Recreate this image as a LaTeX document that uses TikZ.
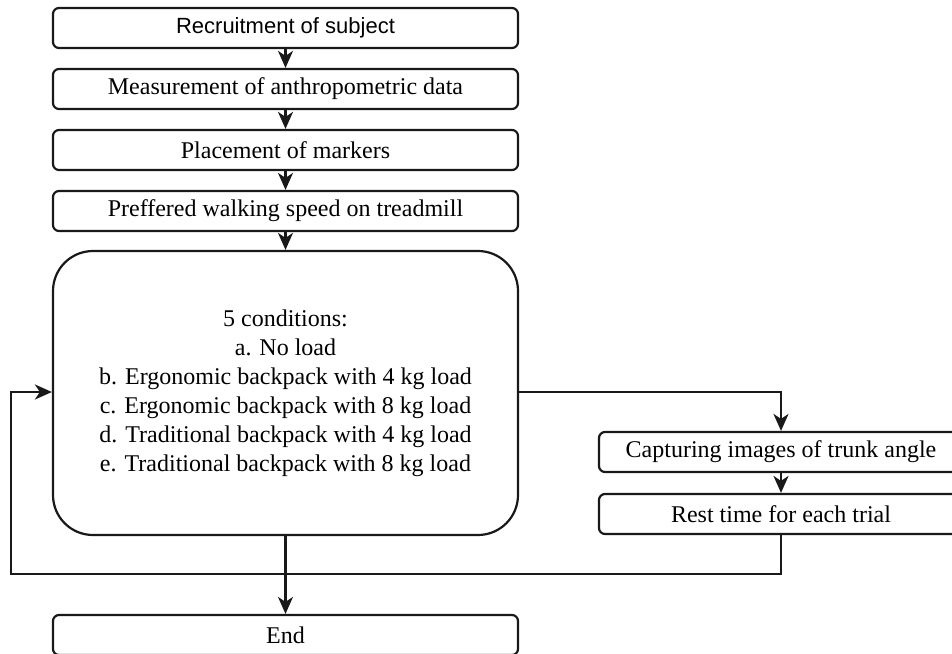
\documentclass[tikz,border=0pt]{standalone}
\usepackage{fontspec}
\setmainfont{Liberation Serif}
\newfontfamily\arialfont{Liberation Sans}
\usetikzlibrary{arrows.meta}
\begin{document}
\begin{tikzpicture}[x=1pt,y=-1pt,
  box/.style={draw=black!90,line width=2.2pt,rounded corners=6pt,minimum width=465pt,minimum height=40pt,inner sep=0pt,font=\fontsize{24}{29}\selectfont,text=black},
  rbox/.style={box,minimum width=364pt},
  bigbox/.style={draw=black!90,line width=2.2pt,rounded corners=40pt,minimum width=465pt,minimum height=284pt,inner sep=0pt,align=center,font=\fontsize{24}{29}\selectfont,text=black},
  conn/.style={draw=black!90,line width=2.2pt,-{Stealth[length=17pt,width=15pt,inset=5pt]}}]
\useasboundingbox (0,0) rectangle (952,653);
\clip (0,0) rectangle (952,653);
\node[box,font=\arialfont\fontsize{22}{26}\selectfont] (n1) at (285.5,28) {Recruitment of subject};
\node[box] (n2) at (285.5,89) {Measurement of anthropometric data};
\node[box] (n3) at (285.5,150) {Placement of markers};
\node[box] (n4) at (285.5,211) {Preffered walking speed on treadmill};
\node[bigbox] (n5) at (285.5,393) {5 conditions:\\a. No load\\b. Ergonomic backpack with 4 kg load\\c. Ergonomic backpack with 8 kg load\\d. Traditional backpack with 4 kg load\\e. Traditional backpack with 8 kg load};
\node[rbox] (r1) at (781,452) {Capturing images of trunk angle};
\node[rbox] (r2) at (781,514) {Rest time for each trial};
\node[box] (n6) at (285.5,635) {End};
\coordinate (c1) at (781,392);
\coordinate (c2) at (781,574);
\coordinate (c3) at (11,574);
\coordinate (c4) at (11,392);
\draw[conn] (n1) -- (n2);
\draw[conn] (n2) -- (n3);
\draw[conn] (n3) -- (n4);
\draw[conn] (n4) -- (n5);
\draw[conn] (n5.east |- c1) -- (c1) -- (r1);
\draw[conn] (r1) -- (r2);
\draw[conn] (r2) -- (c2) -- (c3) -- (c4) -- (n5.west |- c4);
\draw[conn] (n5) -- (n6);
\end{tikzpicture}
\end{document}
